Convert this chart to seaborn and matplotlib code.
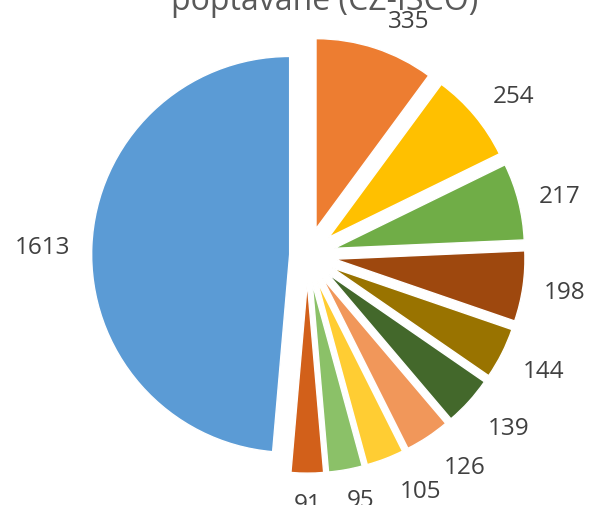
import numpy as np
import matplotlib.pyplot as plt
import seaborn as sns

# data, clockwise from 12 o'clock
values = [335, 254, 217, 198, 144, 139, 126, 105, 95, 91, 1613]
colors = ["#ED7D31", "#FFC000", "#70AD47", "#9E480E", "#997300", "#43682B",
          "#F1975A", "#FFCD33", "#8BC168", "#D2601A", "#5B9BD5"]
title = "poptávané (CZ-ISCO)"

# extra label nudges (px, right / down) where Excel moved labels apart
label_shift = {335: (20, -2), 254: (7, -3), 144: (4, 3), 139: (8, 5),
               126: (14, 4), 105: (20, 3), 95: (9, 0)}

sns.set_theme(style="white")
plt.rcParams["font.family"] = ["Open Sans", "DejaVu Sans"]

W, H, DPI = 590, 505, 100
fig = plt.figure(figsize=(W / DPI, H / DPI), dpi=DPI)
ax = fig.add_axes([0, 0, 1, 1])

R = 190.0              # pie radius in px
cx, cy = 307.3, 255.2  # pie centre in px

explode = [0.147] * (len(values) - 1) + [0.093]
wedges, _ = ax.pie(values, colors=sns.color_palette(colors), explode=explode,
                   startangle=90, counterclock=False,
                   wedgeprops=dict(edgecolor="white", linewidth=1))
wedges[-1].set_radius(1.042)

ax.set_xlim(-cx / R, (W - cx) / R)
ax.set_ylim(-(H - cy) / R, cy / R)
ax.set_aspect("auto")

# outside-end labels
gap = 21.6 / R
pt = 72 / DPI
for w, v in zip(wedges, values):
    phi = np.deg2rad((w.theta1 + w.theta2) / 2)
    ux, uy = np.cos(phi), np.sin(phi)
    x0, y0 = w.center
    anchor = (x0 + (w.r + gap) * ux, y0 + (w.r + gap) * uy)
    hw = 6.85 * len(str(v))
    hh = 7.2
    sx, sy = label_shift.get(v, (0, 0))
    off = ((hw * ux + sx) * pt, (hh * uy - 3 - sy) * pt)
    ax.annotate(str(v), anchor, xytext=off, textcoords="offset points",
                ha="center", va="center", fontsize=17.5, color="#404040")

# title sits mostly above the top edge, as in the original crop
fig.text(325 / W, 1 - 9.5 / H, title, ha="center", va="baseline",
         fontsize=23, color="#595959")

plt.savefig("out.png", dpi=DPI)
